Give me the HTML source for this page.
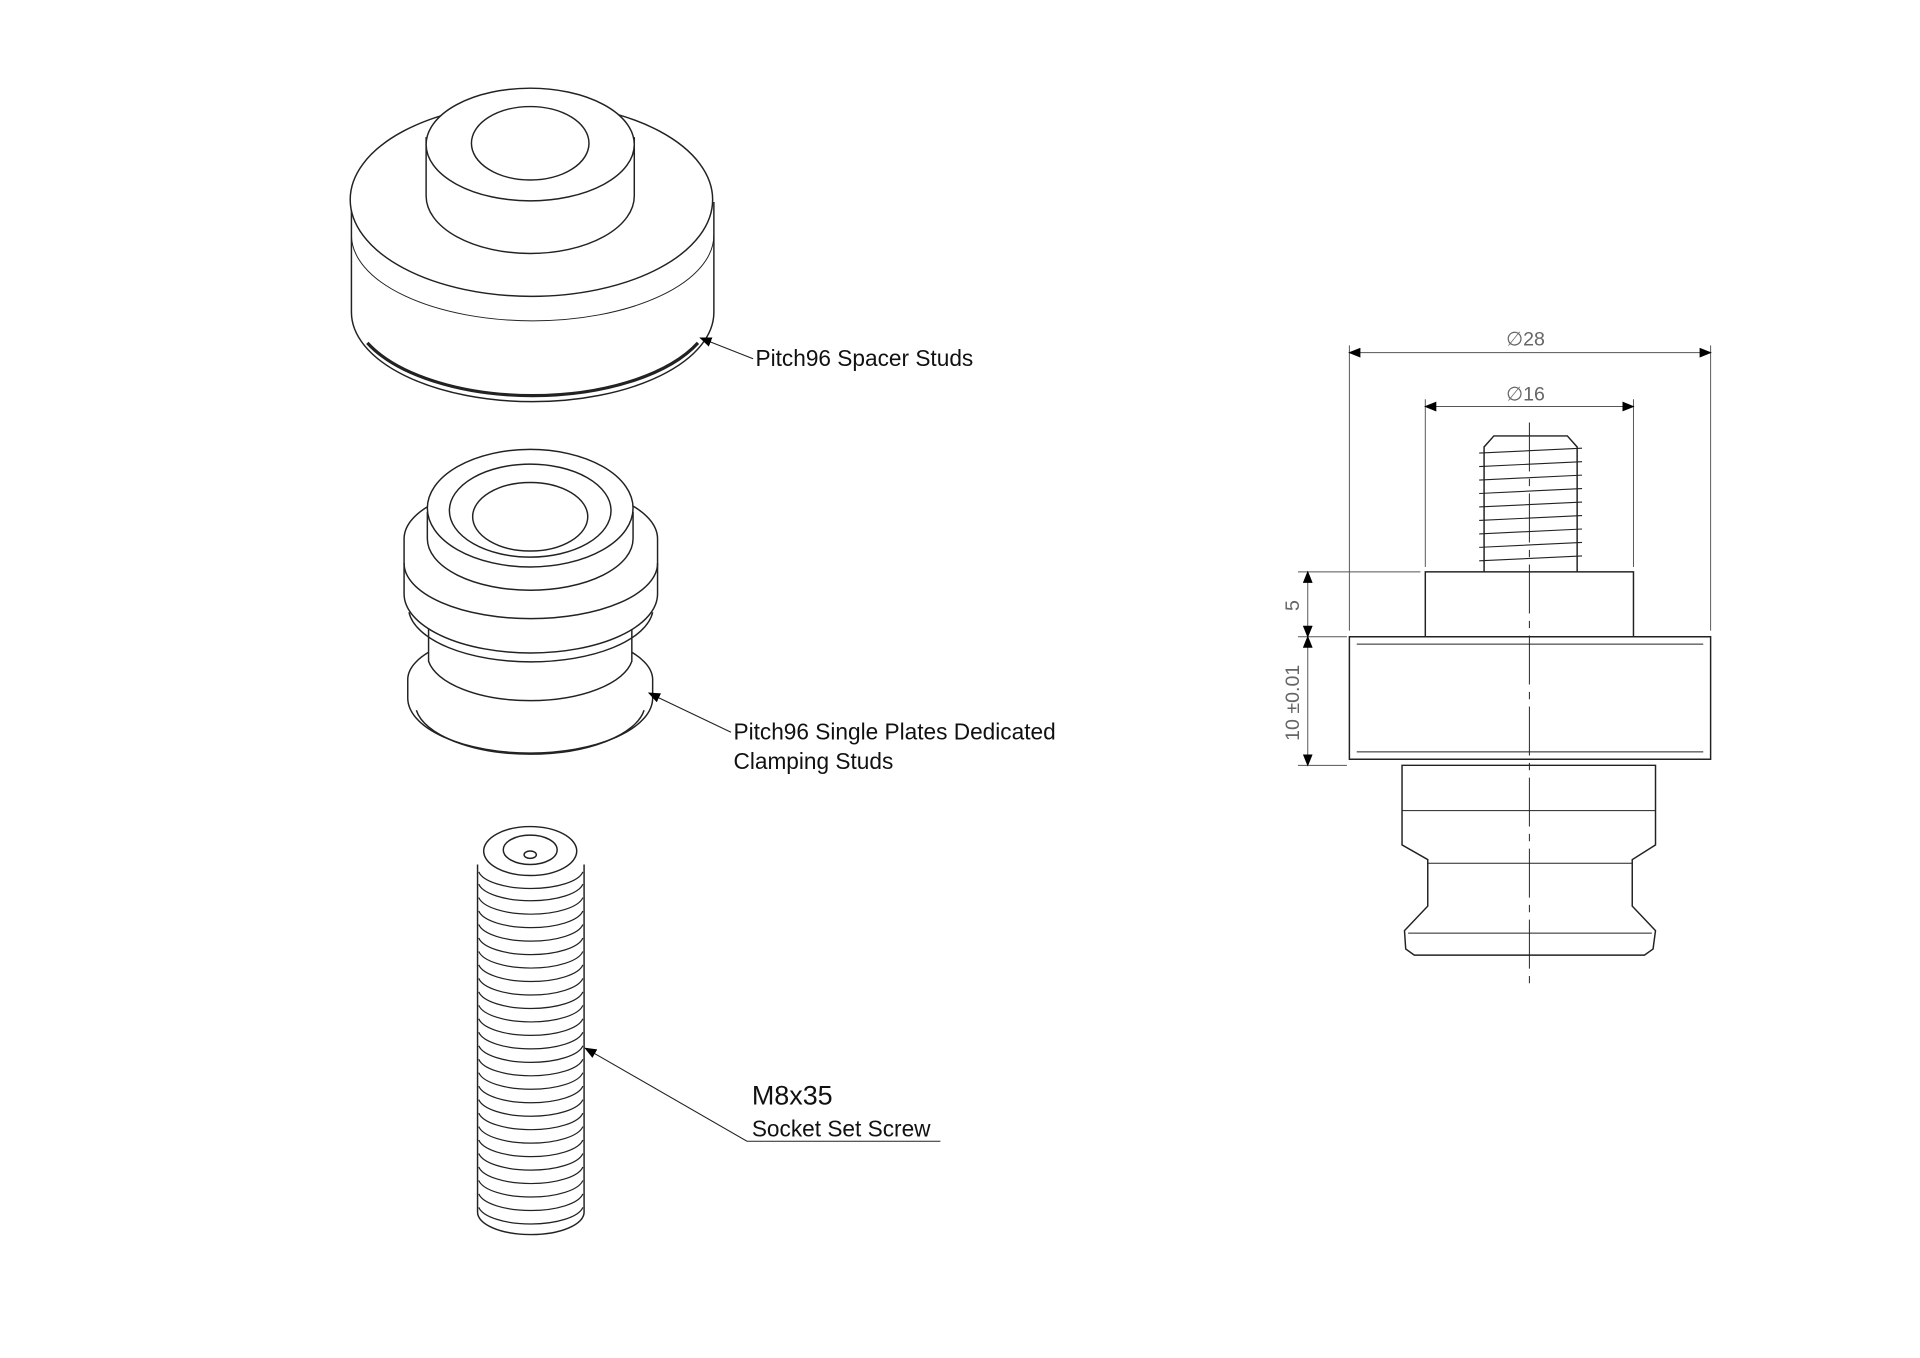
<!DOCTYPE html>
<html><head><meta charset="utf-8"><style>
html,body{margin:0;padding:0;background:#fff;}
svg{display:block;}
text{font-family:"Liberation Sans",sans-serif;}
</style></head><body>
<svg width="1920" height="1358" viewBox="0 0 1568 1109" xmlns="http://www.w3.org/2000/svg">
<rect width="1568" height="1109" fill="#fff"/>
<defs>
<marker id="ar" markerWidth="10" markerHeight="8" refX="9" refY="4" orient="auto-start-reverse" markerUnits="userSpaceOnUse"><path d="M0,0 L10,4 L0,8 z" fill="#000"/></marker>
</defs>
<g fill="#fff" stroke="#222" stroke-width="1.2">
<!-- Spacer stud -->
<path d="M287,165 L287,255 A148,73 0 0 0 583,255 L583,165"/>
<path d="M300,280 A148,73 0 0 0 570,280" fill="none" stroke-width="2.6"/>
<ellipse cx="434" cy="163" rx="148" ry="79"/>
<path d="M287,192 A148,70 0 0 0 583,192" fill="none" stroke-width="0.8"/>
<path d="M348,112 L348,160 A85,47 0 0 0 518,160 L518,112"/>
<ellipse cx="433" cy="118" rx="85" ry="46"/>
<ellipse cx="433" cy="117" rx="48" ry="30"/>
<!-- Clamping stud (back to front) -->
<path d="M333,555 L333,570 A100,45 0 0 0 533,570 L533,555 A100,40 0 0 0 333,555 Z"/>
<path d="M340,580 A94,42 0 0 0 526,580" fill="none"/>
<path d="M350,510 L350,540 A84,38 0 0 0 516,540 L516,510 Z"/>
<path d="M330,440 L330,485 A103,48 0 0 0 537,485 L537,440 A103,45 0 0 0 330,440 Z"/>
<path d="M330,460 A103,45 0 0 0 537,460" fill="none"/>
<path d="M334,500 A100,45 0 0 0 533,500" fill="none"/>
<path d="M349,418 L349,440 A84,42 0 0 0 517,440 L517,418"/>
<ellipse cx="433" cy="415" rx="84" ry="48"/>
<ellipse cx="433" cy="417" rx="66" ry="38"/>
<ellipse cx="433" cy="422" rx="47" ry="28"/>
<!-- Screw -->
<path d="M390,706 L390,990 A43,18 0 0 0 477,990 L477,706"/>
<ellipse cx="433" cy="695" rx="38" ry="20"/>
<ellipse cx="433" cy="694" rx="22" ry="12"/>
<ellipse cx="433" cy="698" rx="5" ry="3"/>
<g stroke-width="1" fill="none">
<path d="M391,712 A43,16 0 0 0 476,712"/><path d="M391,722 A43,16 0 0 0 476,722"/>
<path d="M391,733 A43,16 0 0 0 476,733"/><path d="M391,744 A43,16 0 0 0 476,744"/>
<path d="M391,755 A43,16 0 0 0 476,755"/><path d="M391,766 A43,16 0 0 0 476,766"/>
<path d="M391,777 A43,16 0 0 0 476,777"/><path d="M391,788 A43,16 0 0 0 476,788"/>
<path d="M391,799 A43,16 0 0 0 476,799"/><path d="M391,810 A43,16 0 0 0 476,810"/>
<path d="M391,821 A43,16 0 0 0 476,821"/><path d="M391,832 A43,16 0 0 0 476,832"/>
<path d="M391,843 A43,16 0 0 0 476,843"/><path d="M391,854 A43,16 0 0 0 476,854"/>
<path d="M391,865 A43,16 0 0 0 476,865"/><path d="M391,876 A43,16 0 0 0 476,876"/>
<path d="M391,887 A43,16 0 0 0 476,887"/><path d="M391,898 A43,16 0 0 0 476,898"/>
<path d="M391,909 A43,16 0 0 0 476,909"/><path d="M391,920 A43,16 0 0 0 476,920"/>
<path d="M391,931 A43,16 0 0 0 476,931"/><path d="M391,942 A43,16 0 0 0 476,942"/>
<path d="M391,953 A43,16 0 0 0 476,953"/><path d="M391,964 A43,16 0 0 0 476,964"/>
<path d="M391,975 A43,16 0 0 0 476,975"/><path d="M391,986 A43,16 0 0 0 476,986"/>
</g>
</g>
<!-- leaders -->
<g stroke="#222" stroke-width="0.9" fill="none">
<line x1="615" y1="293" x2="572" y2="276" marker-end="url(#ar)"/>
<line x1="597" y1="598" x2="530" y2="566" marker-end="url(#ar)"/>
<polyline points="768,932 610,932 478,856" marker-end="url(#ar)"/>
</g>
<g font-size="18.5" fill="#111">
<text x="617" y="299">Pitch96 Spacer Studs</text>
<text x="599" y="604">Pitch96 Single Plates Dedicated</text>
<text x="599" y="628">Clamping Studs</text>
<text x="614" y="902" font-size="22">M8x35</text>
<text x="614" y="928">Socket Set Screw</text>
</g>
<!-- Right drawing -->
<g fill="none" stroke="#222" stroke-width="1.2">
<path d="M1102,520 L1397,520 L1397,620 L1102,620 Z"/>
<path d="M1108,526 L1391,526 M1108,614 L1391,614" stroke-width="0.8"/>
<rect x="1164" y="467" width="170" height="53"/>
<path d="M1145,625 L1352,625 L1352,690 L1333,702 L1333,740 L1352,760 L1350,775 L1343,780 L1155,780 L1148,775 L1147,760 L1166,740 L1166,702 L1145,690 Z"/>
<path d="M1145,662 L1352,662 M1166,705 L1333,705 M1150,762 L1349,762" stroke-width="0.8"/>
<path d="M1212,467 L1212,365 L1220,356 L1280,356 L1288,365 L1288,467"/>
<g stroke-width="0.9">
<path d="M1208,370 L1292,366 M1208,381 L1292,377 M1208,392 L1292,388 M1208,403 L1292,399 M1208,414 L1292,410 M1208,425 L1292,421 M1208,436 L1292,432 M1208,447 L1292,443 M1208,458 L1292,454"/>
</g>
<path d="M1249,345 L1249,805" stroke-dasharray="40,6,6,6" stroke-width="0.8"/>
</g>
<g stroke="#555" stroke-width="0.8" fill="none">
<line x1="1102" y1="282" x2="1102" y2="515"/><line x1="1397" y1="282" x2="1397" y2="515"/>
<line x1="1102" y1="288" x2="1397" y2="288" marker-start="url(#ar)" marker-end="url(#ar)"/>
<line x1="1164" y1="326" x2="1164" y2="463"/><line x1="1334" y1="326" x2="1334" y2="463"/>
<line x1="1164" y1="332" x2="1334" y2="332" marker-start="url(#ar)" marker-end="url(#ar)"/>
<line x1="1060" y1="467" x2="1160" y2="467"/><line x1="1060" y1="520" x2="1100" y2="520"/><line x1="1060" y1="625" x2="1100" y2="625"/>
<line x1="1068" y1="467" x2="1068" y2="520" marker-start="url(#ar)" marker-end="url(#ar)"/>
<line x1="1068" y1="520" x2="1068" y2="625" marker-start="url(#ar)" marker-end="url(#ar)"/>
</g>
<g fill="#666" font-size="16">
<text x="1230" y="282">∅28</text>
<text x="1230" y="327">∅16</text>
<text transform="translate(1061,499) rotate(-90)">5</text>
<text transform="translate(1061,605) rotate(-90)">10 ±0.01</text>
</g>
</svg>
</body></html>
